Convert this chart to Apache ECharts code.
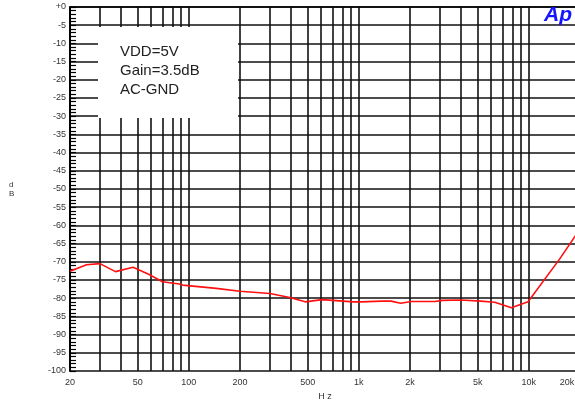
<!DOCTYPE html>
<html>
<head>
<meta charset="utf-8">
<script src="https://cdn.jsdelivr.net/npm/echarts@6/dist/echarts.min.js"></script>
<style>html,body{margin:0;padding:0;background:#fff;}#c{width:575px;height:402px;}</style>
</head>
<body>
<div id="c"></div>
<script>
var freqHz = [20, 25, 30, 37, 47, 58, 70, 88, 92, 145, 200, 300, 392, 484, 608, 930, 1030, 1360, 1550, 1760, 2040, 2800, 3100, 4000, 5200, 6300, 7900, 9900, 15200, 20000];
var levelDb = [-72.6, -70.8, -70.5, -72.7, -71.5, -73.4, -75.5, -76.1, -76.4, -77.3, -78.1, -78.7, -79.8, -81.0, -80.4, -81.0, -81.0, -80.8, -80.8, -81.4, -80.9, -80.9, -80.6, -80.5, -80.8, -81.1, -82.6, -81.0, -69.2, -61.0];
var xLabelValues = [20, 50, 100, 200, 500, 1000, 2000, 5000, 10000, 20000];
var xGridValues = [20, 30, 40, 50, 60, 70, 80, 90, 100, 200, 300, 400, 500, 600, 700, 800, 900, 1000, 2000, 3000, 4000, 5000, 6000, 7000, 8000, 9000, 10000, 20000];
var annotationLines = ['VDD=5V', 'Gain=3.5dB', 'AC-GND'];

var data = freqHz.map(function (f, i) { return [f, levelDb[i]]; });
function fmtHz(v) {
  var s = v >= 1000 ? (v / 1000) + 'k' : String(v);
  return v >= 20000 ? '{edge|' + s + '}' : s;
}

var chart = echarts.init(document.getElementById('c'), null, { renderer: 'canvas' });
chart.setOption({
  animation: false,
  backgroundColor: '#fff',
  grid: { left: 70, right: -5, top: 7, bottom: 31, containLabel: false, outerBoundsMode: 'none' },
  xAxis: {
    type: 'log', logBase: 10, min: 20, max: 20000,
    name: 'H z', nameLocation: 'middle', nameGap: 20,
    nameTextStyle: { fontFamily: 'Liberation Sans', fontSize: 9, color: '#333' },
    axisLine: { show: true, lineStyle: { color: '#000', width: 1.6 } },
    axisTick: { show: false, customValues: xGridValues },
    splitLine: { show: true, lineStyle: { color: '#111', width: 1.6 } },
    axisLabel: {
      customValues: xLabelValues, formatter: fmtHz, fontFamily: 'Liberation Sans', fontSize: 9, color: '#333', margin: 7,
      rich: { edge: { fontFamily: 'Liberation Sans', fontSize: 9, color: '#333', padding: [0, 26, 0, 0] } }
    }
  },
  yAxis: {
    type: 'value', min: -100, max: 0, interval: 5,
    axisLine: { show: true, lineStyle: { color: '#000', width: 2 } },
    axisTick: { show: true, inside: true, length: 6, lineStyle: { color: '#000', width: 1.2 } },
    minorTick: { show: true, splitNumber: 5, length: 6, lineStyle: { color: '#000', width: 1.2 } },
    splitLine: { show: true, lineStyle: { color: '#111', width: 1.6 } },
    axisLabel: { formatter: function (v) { return v === 0 ? '+0' : String(v); }, fontFamily: 'Liberation Sans', fontSize: 9, color: '#333', margin: 4 }
  },
  series: [{
    type: 'line', data: data, showSymbol: false, symbol: 'none',
    lineStyle: { color: '#ff1010', width: 1.6 }, z: 5
  }],
  graphic: [
    { type: 'rect', shape: { x: 98, y: 27, width: 140, height: 91 }, style: { fill: '#fff' }, z: 100 },
    { type: 'text', left: 120, top: 42, z: 101, style: { text: annotationLines.join('\n'), font: '15px "Liberation Sans"', fill: '#222', lineHeight: 19 } },
    { type: 'text', left: 544, top: 5, z: 101, style: { text: 'Ap', font: 'italic bold 21px "Liberation Sans"', fill: '#1414ff' } },
    { type: 'text', left: 9, top: 180, z: 101, style: { text: 'd\nB', font: '8px "Liberation Sans"', fill: '#333', lineHeight: 9, align: 'center' } }
  ]
});
</script>
</body>
</html>
